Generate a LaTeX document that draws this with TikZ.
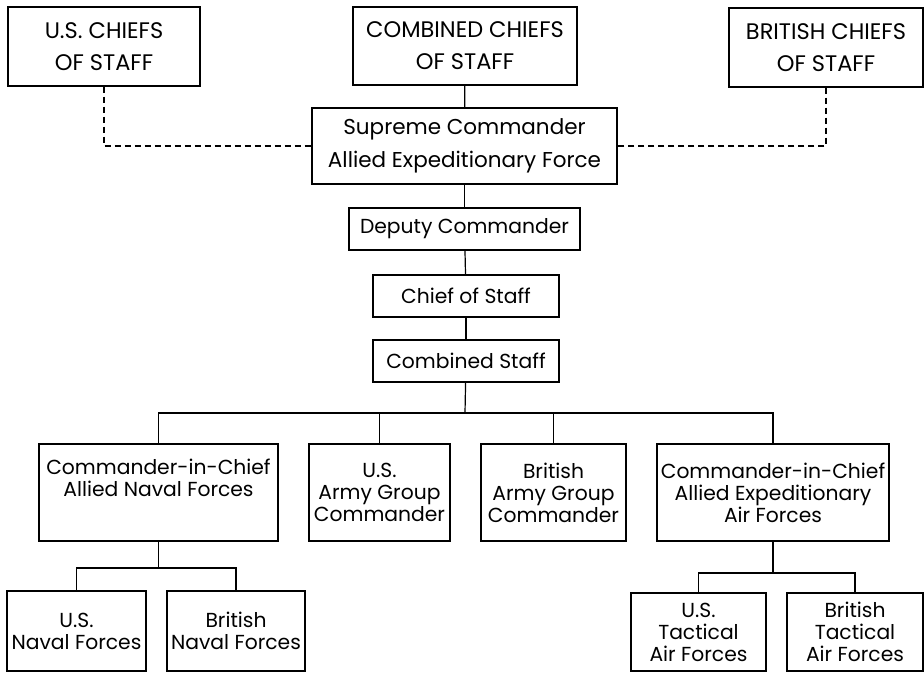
\documentclass[tikz,border=0pt]{standalone}
\usepackage{fontspec}
\setmainfont{Poppins}
\newcommand\chieffont{\fontsize{22.5}{32}\selectfont}
\newcommand\hqfont{\fontsize{21.5}{33}\selectfont}
\newcommand\unitfont{\fontsize{20.3}{22}\selectfont}

\begin{document}
\begin{tikzpicture}[x=1pt,y=-1pt,
    unit/.style={draw,line width=1.2pt,inner sep=0pt,align=center,font=\unitfont},
    chiefs/.style={unit,font=\chieffont},
    link/.style={line width=1.2pt},
    liaison/.style={line width=1.2pt,dash pattern=on 6pt off 4pt}]
\useasboundingbox (0,0) rectangle (924,673);
% chiefs of staff
\node[chiefs,minimum width=192,minimum height=79] (usc) at (104,46.5) {U.S. CHIEFS\\OF STAFF};
\node[chiefs,minimum width=224,minimum height=78] (ccs) at (465,46) {COMBINED CHIEFS\\OF STAFF};
\node[chiefs,minimum width=194,minimum height=79] (bcs) at (826,47.5) {BRITISH CHIEFS\\OF STAFF};
% supreme headquarters
\node[unit,font=\hqfont,minimum width=305,minimum height=76] (sup) at (464.5,146) {Supreme Commander\\Allied Expeditionary Force};
\node[unit,minimum width=231,minimum height=42] (dep) at (464.5,229) {Deputy Commander};
\node[unit,minimum width=186,minimum height=42] (cos) at (466,296) {Chief of Staff};
\node[unit,minimum width=186,minimum height=42] (cst) at (466,361) {Combined Staff};
% commanders
\node[unit,minimum width=239,minimum height=97] (nav) at (158.5,492.5) {Commander-in-Chief\\Allied Naval Forces\\ \strut};
\node[unit,minimum width=141,minimum height=97] (usa) at (379.5,492.5) {U.S.\\Army Group\\Commander};
\node[unit,minimum width=145,minimum height=97] (bra) at (553.5,492.5) {British\\Army Group\\Commander};
\node[unit,minimum width=232,minimum height=97] (air) at (773,492.5) {Commander-in-Chief\\Allied Expeditionary\\Air Forces};
% forces
\node[unit,minimum width=139,minimum height=80] (usn) at (76.5,631) {U.S.\\Naval Forces};
\node[unit,minimum width=138,minimum height=80] (brn) at (236,631) {British\\Naval Forces};
\node[unit,minimum width=135,minimum height=78] (ust) at (698.5,632) {U.S.\\Tactical\\Air Forces};
\node[unit,minimum width=136,minimum height=78] (brt) at (855,632) {British\\Tactical\\Air Forces};

\coordinate (bus) at (465,413);
\coordinate (navbus) at (158.5,568);
\coordinate (airbus) at (773,573);

\draw[link] (ccs) -- (sup);
\draw[link] (sup) -- (dep);
\draw[link] (dep) -- (cos);
\draw[link] (cos) -- (cst);
\draw[link] (cst) -- (bus);
\draw[link] (nav.north) |- (bus) -| (air.north);
\draw[link] (usa.north) -- (usa.north |- bus);
\draw[link] (bra.north) -- (bra.north |- bus);
\draw[link] (nav) -- (navbus);
\draw[link] (usn.north) |- (navbus) -| (brn.north);
\draw[link] (air) -- (airbus);
\draw[link] (ust.north) |- (airbus) -| (brt.north);
\draw[liaison] (usc.south) |- (sup.west);
\draw[liaison] (bcs.south) |- (sup.east);
\end{tikzpicture}
\end{document}
